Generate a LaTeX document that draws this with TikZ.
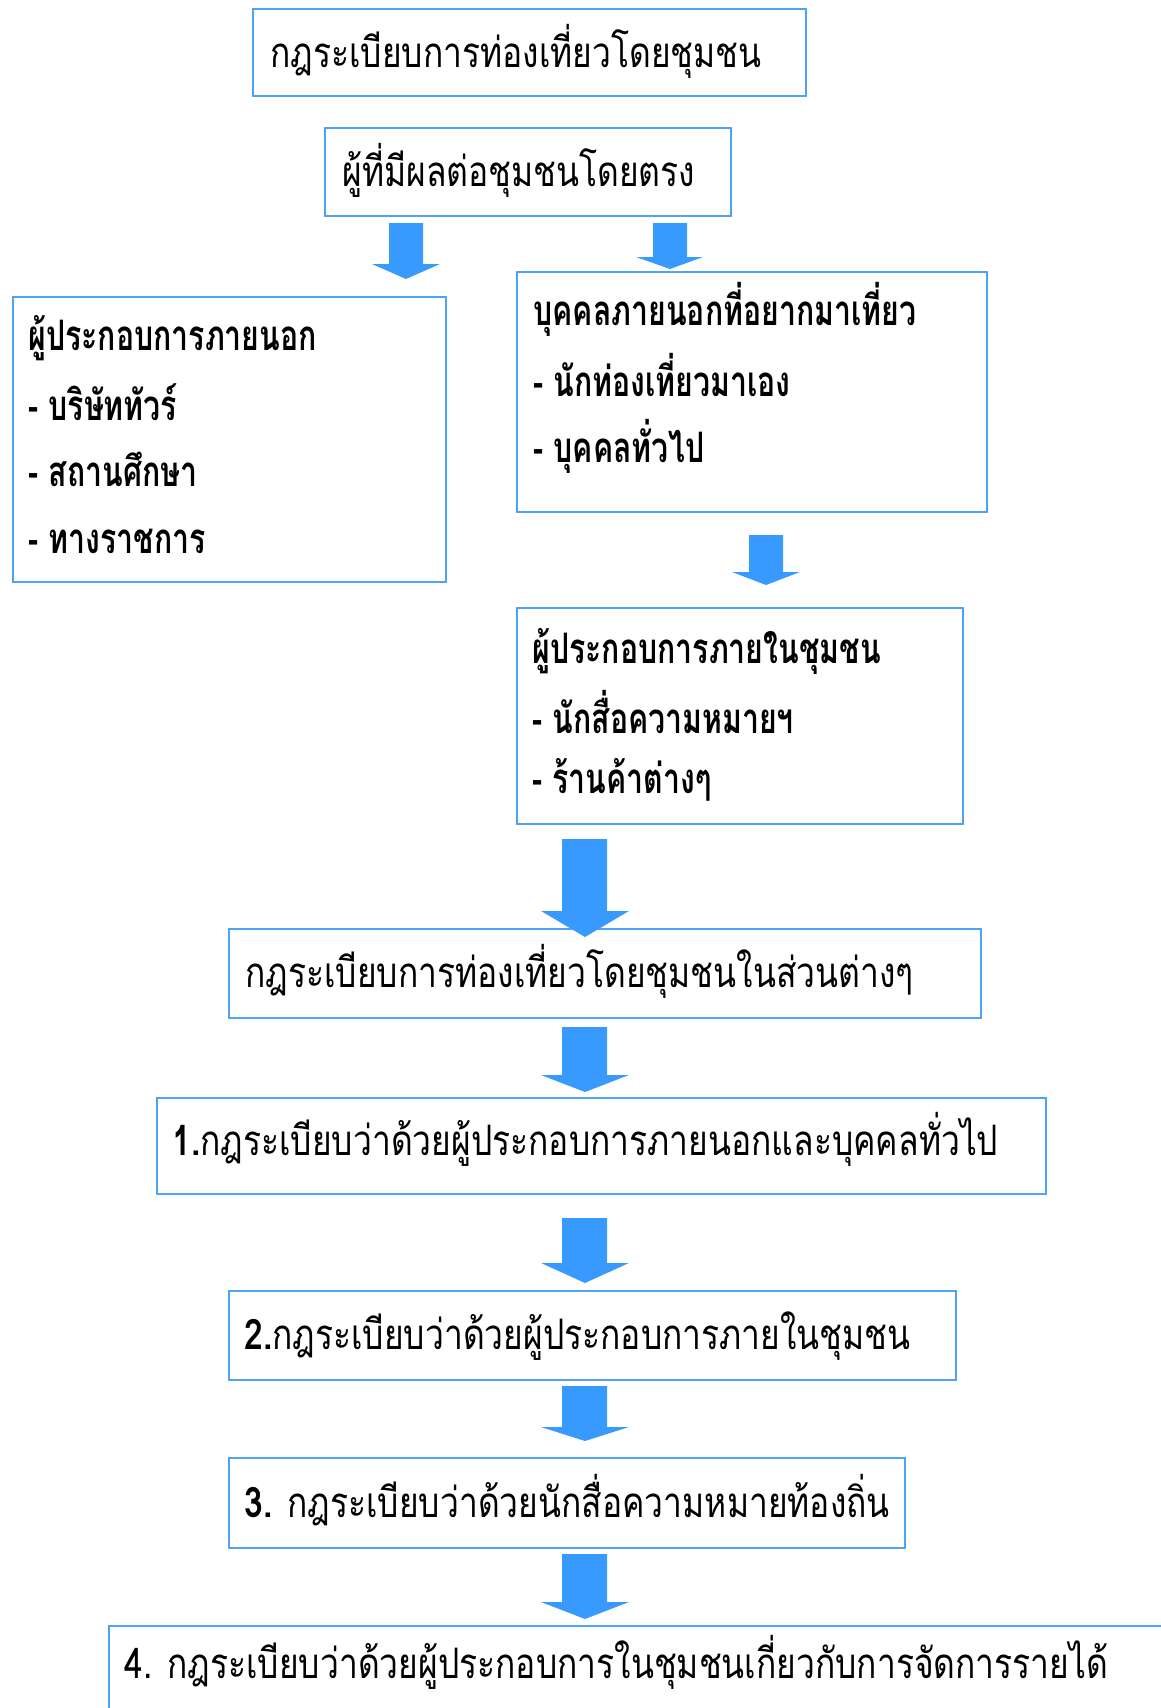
\documentclass[tikz,border=0pt]{standalone}
\usepackage{fontspec}
\newfontfamily\thaifont[Script=Thai,FakeStretch=0.8]{Loma}
\newfontfamily\thaiboldfont[Script=Thai,FakeStretch=0.72]{Loma}
\usetikzlibrary{arrows}

\begin{document}
\begin{tikzpicture}[x=0.5pt,y=0.5pt,yscale=-1,xscale=1,
  box/.style={draw={rgb,255:red,79;green,163;blue,247},line width=1.1pt},
  blk/.style={draw opacity=0,fill={rgb,255:red,56;green,154;blue,255},fill opacity=1},
  txt/.style={anchor=base west,inner sep=0pt,font=\thaifont\fontsize{21}{25}\selectfont},
  btxt/.style={txt,font=\thaiboldfont\bfseries\fontsize{21}{25}\selectfont}]
\path[use as bounding box,clip] (0,0) rectangle (1161,1708);

%Shape: Rectangle
\draw [box] (253,9) -- (806,9) -- (806,96) -- (253,96) -- cycle ;
%Shape: Rectangle
\draw [box] (325,128) -- (731,128) -- (731,216) -- (325,216) -- cycle ;
%Shape: Rectangle
\draw [box] (13,297) -- (446,297) -- (446,582) -- (13,582) -- cycle ;
%Shape: Rectangle
\draw [box] (517,272) -- (987,272) -- (987,512) -- (517,512) -- cycle ;
%Shape: Rectangle
\draw [box] (517,608) -- (963,608) -- (963,824) -- (517,824) -- cycle ;
%Shape: Rectangle
\draw [box] (229,929) -- (981,929) -- (981,1018) -- (229,1018) -- cycle ;
%Shape: Rectangle
\draw [box] (157,1098) -- (1046,1098) -- (1046,1194) -- (157,1194) -- cycle ;
%Shape: Rectangle
\draw [box] (229,1291) -- (956,1291) -- (956,1380) -- (229,1380) -- cycle ;
%Shape: Rectangle
\draw [box] (229,1458) -- (905,1458) -- (905,1548) -- (229,1548) -- cycle ;
%Shape: Rectangle
\draw [box] (109,1626) -- (1180,1626) -- (1180,1730) -- (109,1730) -- cycle ;

%Down Arrow
\draw [blk] (440,264) -- (406,279) -- (372,264) -- (389,264) -- (389,223) -- (423,223) -- (423,264) -- cycle ;
%Down Arrow
\draw [blk] (703,257) -- (670,269) -- (636,257) -- (653,257) -- (653,223) -- (687,223) -- (687,257) -- cycle ;
%Down Arrow
\draw [blk] (800,572) -- (766,585) -- (732,572) -- (749,572) -- (749,535) -- (783,535) -- (783,572) -- cycle ;
%Down Arrow
\draw [blk] (629,911) -- (585,937) -- (541,911) -- (562,911) -- (562,839) -- (607,839) -- (607,911) -- cycle ;
%Down Arrow
\draw [blk] (629,1075) -- (585,1092) -- (541,1075) -- (562,1075) -- (562,1027) -- (607,1027) -- (607,1075) -- cycle ;
%Down Arrow
\draw [blk] (629,1263) -- (585,1283) -- (541,1263) -- (562,1263) -- (562,1218) -- (607,1218) -- (607,1263) -- cycle ;
%Down Arrow
\draw [blk] (629,1427) -- (585,1441) -- (541,1427) -- (562,1427) -- (562,1386) -- (607,1386) -- (607,1427) -- cycle ;
%Down Arrow
\draw [blk] (629,1602) -- (585,1619) -- (541,1602) -- (562,1602) -- (562,1554) -- (607,1554) -- (607,1602) -- cycle ;

% Text Node
\draw (270,67) node [txt] (rules) {กฎระเบียบการท่องเที่ยวโดยชุมชน};
% Text Node
\draw (342,186) node [txt] (direct) {ผู้ที่มีผลต่อชุมชนโดยตรง};
% Text Node
\draw (28,350) node [btxt] (outop) {ผู้ประกอบการภายนอก};
% Text Node
\draw (28,420) node [btxt] (tour) {- บริษัททัวร์};
% Text Node
\draw (28,486) node [btxt] (school) {- สถานศึกษา};
% Text Node
\draw (28,553) node [btxt] (gov) {- ทางราชการ};
% Text Node
\draw (533,325) node [btxt] (visitor) {บุคคลภายนอกที่อยากมาเที่ยว};
% Text Node
\draw (533,396) node [btxt] (selftour) {- นักท่องเที่ยวมาเอง};
% Text Node
\draw (533,462) node [btxt] (public) {- บุคคลทั่วไป};
% Text Node
\draw (532,663) node [btxt] (inop) {ผู้ประกอบการภายในชุมชน};
% Text Node
\draw (532,733) node [btxt] (guide) {- นักสื่อความหมายฯ};
% Text Node
\draw (532,793) node [btxt] (shop) {- ร้านค้าต่างๆ};
% Text Node
\draw (245,987) node [txt] (parts) {กฎระเบียบการท่องเที่ยวโดยชุมชนในส่วนต่างๆ};
% Text Node
\draw (172,1155) node [txt] (rule1) {\textbf{1.}กฎระเบียบว่าด้วยผู้ประกอบการภายนอกและบุคคลทั่วไป};
% Text Node
\draw (244,1349) node [txt] (rule2) {\textbf{2.}กฎระเบียบว่าด้วยผู้ประกอบการภายในชุมชน};
% Text Node
\draw (244,1517) node [txt] (rule3) {\textbf{3.} กฎระเบียบว่าด้วยนักสื่อความหมายท้องถิ่น};
% Text Node
\draw (124,1678) node [txt] (rule4) {4. กฎระเบียบว่าด้วยผู้ประกอบการในชุมชนเกี่ยวกับการจัดการรายได้};

\end{tikzpicture}
\end{document}
